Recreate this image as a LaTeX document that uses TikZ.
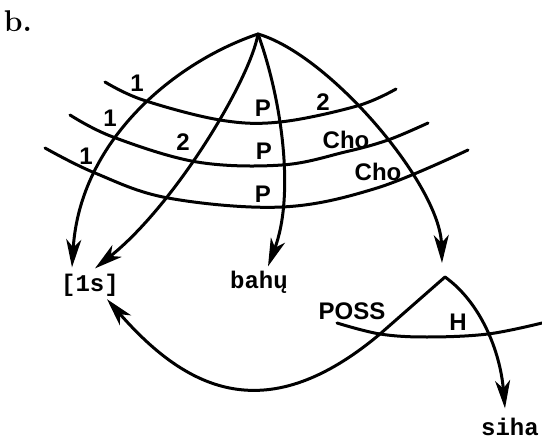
\documentclass[tikz,border=0pt]{standalone}
\usepackage{fontspec}
\newfontfamily\labfont{Liberation Sans}
\newfontfamily\twfont{Liberation Mono}
\usetikzlibrary{arrows.meta,calc}
\begin{document}
\begin{tikzpicture}[x=1pt,y=-1pt,
  line/.style={line width=3pt, line cap=round, line join=round},
  arr/.style={line, -{Stealth[length=28pt,width=15pt,inset=8pt]}},
  lab/.style={font=\labfont\bfseries\fontsize{24}{24}\selectfont, inner sep=0pt},
  word/.style={font=\twfont\bfseries\fontsize{24}{24}\selectfont, inner sep=0pt, anchor=base}]
\useasboundingbox (0,0) rectangle (542,439);

\node[font=\bfseries\fontsize{30}{30}\selectfont, inner sep=0pt] (title) at (18,21) {b.};

\coordinate (apex) at (258,34);
\coordinate (peak) at (445,277);
\coordinate (bend) at (380,334);

\node[word] (ls) at (90,291) {[1s]};
\node[word] (bahu) at (259,288) {bahų};
\node[word] (siha) at (510,435) {siha};

% bands
\draw[line] plot[smooth, tension=0.6] coordinates {(105,82) (143,100) (220,120) (280,122) (357,106) (396,89)};
\draw[line] plot[smooth, tension=0.6] coordinates {(70,115) (113,137) (197,162) (282,165) (345,152) (388,140) (428,123)};
\draw[line] plot[smooth, tension=0.6] coordinates {(45,148) (95,173) (168,198) (282,207) (377,188) (468,150)};
\draw[line] plot[smooth, tension=0.6] coordinates {(337,323) (380,334) (427,337) (488,334) (542,323)};

% arcs from apex
\draw[arr] (apex) .. controls (175,62) and (80,140) .. ($(ls.north)+(-18,-6)$);
\draw[arr] (apex) .. controls (250,80) and (175,205) .. ($(ls.north)+(5,-5)$);
\draw[arr] (apex) .. controls (282,100) and (295,195) .. ($(bahu.north)+(9,-4)$);
\draw[arr] (apex) .. controls (330,55) and (440,185) .. ($(peak)+(-3,-14)$);

% from peak
\draw[arr] (peak) -- (bend) .. controls (268,428) and (189,393) .. ($(ls.south)+(17,3)$);
\draw[arr] (peak) .. controls (480,302) and (500,350) .. ($(siha.north)+(-5,-9)$);

% labels
\node[lab] (l1a) at (137,83) {1};
\node[lab] (l1b) at (110,118) {1};
\node[lab] (l1c) at (86,156) {1};
\node[lab] (l2a) at (183,142) {2};
\node[lab] (p1) at (263,108) {P};
\node[lab] (p2) at (264,151) {P};
\node[lab] (p3) at (263,194) {P};
\node[lab] (l2b) at (323,102) {2};
\node[lab] (cho1) at (346,140) {Cho};
\node[lab] (cho2) at (378,172) {Cho};
\node[lab] (poss) at (352,311) {POSS};
\node[lab] (h) at (458,322) {H};
\end{tikzpicture}
\end{document}
